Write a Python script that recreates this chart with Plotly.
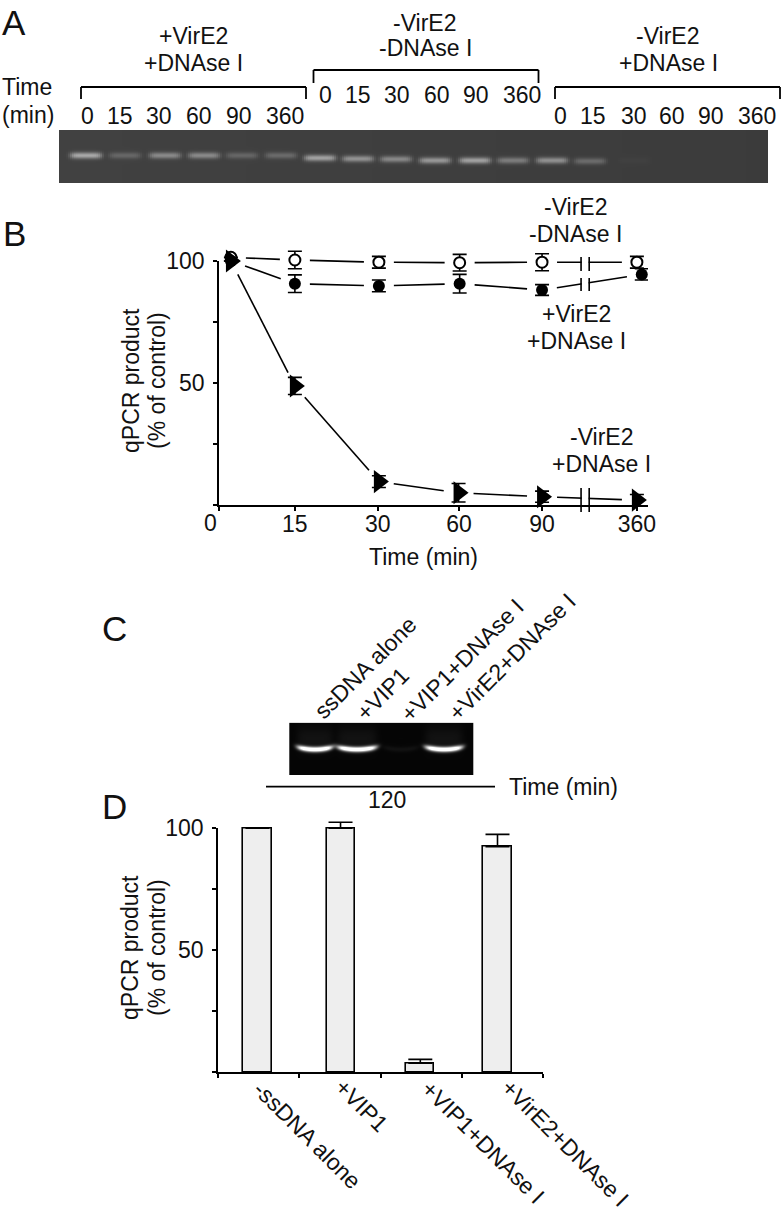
import numpy as np
import plotly.graph_objects as go

W, H = 783, 1212
FONT = "Liberation Sans"
INK = "#111111"

# ---------- Panel B data ----------
time_labels = ["", "15", "30", "60", "90", "360"]
time_ticks = [0, 14.0, 29.3, 44.3, 59.6, 77.1]
x_open = [2.2, 14.0, 29.5, 44.4, 59.6, 77.1]
y_open = [101.5, 100.4, 99.5, 99.3, 99.5, 99.5]
e_open = [0, 3.6, 2.4, 3.4, 3.5, 2.4]
x_fill = [2.2, 14.0, 29.5, 44.4, 59.6, 78.0]
y_fill = [100, 90.7, 89.8, 90.7, 88.1, 94.5]
e_fill = [0, 3.6, 2.4, 3.8, 2.2, 2.3]
x_tri = [2.2, 14.0, 29.5, 44.2, 59.6, 77.1]
y_tri = [100, 48.8, 9.6, 5.0, 3.4, 2.0]
e_tri = [0, 3.5, 2.4, 3.8, 2.3, 2.3]

# ---------- Panel D data ----------
bar_labels = ["-ssDNA alone", "+VIP1", "+VIP1+DNAse I", "+VirE2+DNAse I"]
bar_pos = [0.486, 1.508, 2.49, 3.44]
bar_vals = [100, 100, 3.7, 92.5]
bar_errs = [None, 2.5, 1.6, 5.0]

# ---------- Gel lane data (grey level of each band) ----------
gelA_lanes = [86, 125, 165, 204, 242, 281, 320, 358, 396, 435, 475, 513, 552, 590, 634]
gelA_peak = [165, 100, 135, 135, 100, 105, 160, 145, 135, 150, 160, 125, 145, 108, 66]
gelA_row = [155, 155, 155, 155, 155, 155, 157.5, 158.3, 158.7, 160, 160, 160, 160, 160.7, 160]
gelC_lanes = [315, 357, 401, 444]
gelC_half = [18, 20, 18, 19]
gelC_peak = [255, 255, 10, 255]

PX_PER_X = 429 / 79.15
PX_PER_UNIT = 2.44
GAP_PX = 15


def px(x):
    return x / W


def py(y):
    return 1 - y / H


def gapped(xs, ys):
    """Line segments between neighbouring points, stopping short of each marker."""
    out_x, out_y = [], []
    for x0, y0, x1, y1 in zip(xs[:-1], ys[:-1], xs[1:], ys[1:]):
        length = float(np.hypot((x1 - x0) * PX_PER_X, (y1 - y0) * PX_PER_UNIT))
        t = GAP_PX / length
        out_x += [x0 + (x1 - x0) * t, x1 - (x1 - x0) * t, None]
        out_y += [y0 + (y1 - y0) * t, y1 - (y1 - y0) * t, None]
    return out_x, out_y


def gel_a():
    xs = np.arange(59, 769, 2.0)
    ys = np.arange(130, 184, 1.0)
    X, Y = np.meshgrid(xs, ys)
    Z = np.full(X.shape, 65.0) - 0.008 * (X - 59)
    for c, p, r in zip(gelA_lanes, gelA_peak, gelA_row):
        Z += (p - 62) * np.exp(-(((X - c) / 16) ** 6)) * np.exp(-(((Y - r) / 3.2) ** 2))
    return xs, ys, Z


def gel_c():
    xs = np.arange(289.5, 474, 1.0)
    ys = np.arange(723, 776, 1.0)
    X, Y = np.meshgrid(xs, ys)
    Z = np.full(X.shape, 5.0)
    for c, h, p in zip(gelC_lanes, gelC_half, gelC_peak):
        u = (X - c) / h
        r = 749 - 2.5 * u ** 2
        lane = np.exp(-(u ** 6))
        Z += p * 1.2 * lane * np.exp(-(((Y - r) / 2.6) ** 2))
        Z += (p * 0.05) * lane * np.exp(-(((Y - 738) / 12) ** 2))
    return xs, ys, np.clip(Z, 0, 255)


fig = go.Figure()

# Connecting lines, broken round each point
for xs, ys in [(x_open, y_open), (x_fill, y_fill), (x_tri, y_tri)]:
    gx, gy = gapped(xs, ys)
    fig.add_trace(go.Scatter(x=gx, y=gy, mode="lines", line=dict(color="black", width=1.6),
                             connectgaps=False, showlegend=False, hoverinfo="skip"))

fig.add_trace(go.Scatter(x=x_open, y=y_open, mode="markers",
                         error_y=dict(type="data", array=e_open, color="black", thickness=1.6, width=7),
                         marker=dict(symbol="circle", color="white", size=11, line=dict(color="black", width=2)),
                         name="-VirE2 -DNAse I", showlegend=False))
fig.add_trace(go.Scatter(x=x_fill, y=y_fill, mode="markers",
                         error_y=dict(type="data", array=e_fill, color="black", thickness=1.6, width=7),
                         marker=dict(symbol="circle", color="black", size=12),
                         name="+VirE2 +DNAse I", showlegend=False))
fig.add_trace(go.Scatter(x=x_tri, y=y_tri, mode="markers",
                         error_y=dict(type="data", array=e_tri, color="black", thickness=1.6, width=7),
                         marker=dict(symbol="triangle-right", color="black", size=20),
                         name="-VirE2 +DNAse I", showlegend=False))

# Panel D bars
fig.add_trace(go.Bar(x=bar_pos, y=bar_vals, width=0.345, xaxis="x2", yaxis="y2",
                     marker=dict(color="#eeeeee", line=dict(color="black", width=1.6)),
                     error_y=dict(type="data", symmetric=False, array=bar_errs,
                                  arrayminus=[0, 0, 0, 0], color="black", thickness=1.6, width=12),
                     showlegend=False))

# Gels
xa, ya, za = gel_a()
fig.add_trace(go.Heatmap(x=xa, y=ya, z=za, xaxis="x3", yaxis="y3", zmin=0, zmax=255,
                         colorscale=[[0, "black"], [1, "white"]], showscale=False, hoverinfo="skip"))
xc, yc, zc = gel_c()
fig.add_trace(go.Heatmap(x=xc, y=yc, z=zc, xaxis="x4", yaxis="y4", zmin=0, zmax=255,
                         colorscale=[[0, "black"], [1, "white"]], showscale=False, hoverinfo="skip"))

# Transparent carriers so that the visible axes are drawn (after the marks, so they stay on top)
fig.add_trace(go.Scatter(x=time_ticks, y=[0] * len(time_ticks), xaxis="x5", yaxis="y5", mode="markers",
                         marker=dict(opacity=0), showlegend=False, hoverinfo="skip"))
fig.add_trace(go.Scatter(x=bar_pos, y=[0] * len(bar_pos), xaxis="x6", yaxis="y6", mode="markers",
                         marker=dict(opacity=0), showlegend=False, hoverinfo="skip"))

ann = []


def text(s, x, y, size=23, angle=0):
    ann.append(dict(text=s, x=px(x), y=py(y), xref="paper", yref="paper", showarrow=False,
                    xanchor="center", yanchor="middle", textangle=angle,
                    font=dict(family=FONT, size=size, color=INK)))


# Panel letters
text("A", 14, 23, 35)
text("B", 14, 233, 35)
text("C", 114, 628, 35)
text("D", 114, 806, 35)

# Panel A text
text("+VirE2", 193, 36)
text("+DNAse I", 193, 63)
text("-VirE2", 425, 23)
text("-DNAse I", 425, 48)
text("-VirE2", 668, 36)
text("+DNAse I", 668, 63)
text("Time", 27, 87)
text("(min)", 28, 115)
row_labels = ["0", "15", "30", "60", "90", "360"]
for xs, y in [([87.5, 120, 159, 199, 239, 285], 115.7),
              ([325, 358, 397, 437, 476, 522], 95),
              ([560, 593, 634, 672, 711, 757], 115.7)]:
    for lab, x in zip(row_labels, xs):
        text(lab, x, y)

# Panel B text
text("-VirE2", 575.7, 207)
text("-DNAse I", 575, 234)
text("+VirE2", 576.7, 314)
text("+DNAse I", 576, 341)
text("-VirE2", 601.7, 437)
text("+DNAse I", 601.7, 464)
text("0", 210, 522.7)
text("Time (min)", 423, 557)
text("qPCR product", 131, 381, angle=-90)
text("(% of control)", 157, 381, angle=-90)

# Panel C text
text("ssDNA alone", 365, 668, angle=-45)
text("+VIP1", 382.5, 694, angle=-45)
text("+VIP1+DNAse I", 462.5, 660, angle=-45)
text("+VirE2+DNAse I", 512, 657, angle=-45)
text("Time (min)", 563, 787)
text("120", 387, 800)

# Panel D text
text("qPCR product", 130, 948, angle=-90)
text("(% of control)", 157, 948, angle=-90)
for lab, x, y in zip(bar_labels, [307, 361, 483, 565], [1135, 1105, 1142, 1143]):
    text(lab, x, y, angle=45)

shapes = []


def seg(x0, y0, x1, y1, w=1.8):
    shapes.append(dict(type="line", xref="paper", yref="paper", x0=px(x0), y0=py(y0), x1=px(x1), y1=py(y1),
                       line=dict(color="black", width=w)))


for x0, x1, top, bot in [(81, 306, 87, 99), (313.5, 538.5, 70, 83), (555, 780, 87, 99)]:
    seg(x0, bot, x0, top)
    seg(x0, top, x1, top)
    seg(x1, top, x1, bot)
seg(266, 786.7, 495, 786.7)

# Axis breaks in panel B
for y0, y1 in [(85, 103), (0.6, 8)]:
    shapes.append(dict(type="rect", xref="x", yref="y", x0=66.9, x1=68.2, y0=y0, y1=y1,
                       fillcolor="white", line=dict(width=0), layer="above"))
for xb in [66.8, 68.3]:
    for y0, y1 in [(95.9, 101.6), (87.7, 93.0), (-2.9, 7.0)]:
        shapes.append(dict(type="line", xref="x", yref="y", x0=xb, x1=xb, y0=y0, y1=y1,
                           line=dict(color="black", width=1.6), layer="above"))

axis_common = dict(showgrid=False, zeroline=False, showline=True, linecolor="black", linewidth=1.8,
                   ticks="outside", ticklen=4, tickwidth=1.6, tickcolor="black", automargin=False,
                   tickfont=dict(family=FONT, size=23, color=INK))
hidden = dict(visible=False, showgrid=False, zeroline=False, automargin=False)

EXT_B = 20  # extra data units kept round the 0-100 scale so points above 100 stay drawn

fig.update_layout(
    width=W, height=H, margin=dict(l=0, r=0, t=0, b=0), autosize=False,
    paper_bgcolor="white", plot_bgcolor="rgba(0,0,0,0)", showlegend=False,
    bargap=0, annotations=ann, shapes=shapes,
    # hidden scales that carry the marks (same pixel scale as the visible axes, wider range)
    xaxis=dict(domain=[px(219), px(648)], range=[0, 79.15], anchor="y", **hidden),
    yaxis=dict(domain=[py(505 + EXT_B * PX_PER_UNIT), py(261 - EXT_B * PX_PER_UNIT)],
               range=[-EXT_B, 100 + EXT_B], anchor="x", **hidden),
    xaxis2=dict(domain=[px(218), px(543)], range=[0, 4], anchor="y2", **hidden),
    yaxis2=dict(domain=[py(1072.3), py(828.3 - EXT_B * PX_PER_UNIT)],
                range=[0, 100 + EXT_B], anchor="x2", **hidden),
    xaxis3=dict(domain=[px(59), px(768.5)], range=[59, 768.5], anchor="y3", **hidden),
    yaxis3=dict(domain=[py(183), py(130)], range=[183, 130], anchor="x3", **hidden),
    xaxis4=dict(domain=[px(289.3), px(473.3)], range=[289.3, 473.3], anchor="y4", **hidden),
    yaxis4=dict(domain=[py(775), py(722.7)], range=[775, 722.7], anchor="x4", **hidden),
    # visible axes
    xaxis5=dict(domain=[px(219), px(648)], range=[0, 79.15], anchor="y5", tickmode="array",
                tickvals=time_ticks, ticktext=time_labels, ticklabelstandoff=-7, **axis_common),
    yaxis5=dict(domain=[py(505), py(261)], range=[0, 100], anchor="x5", tickmode="array",
                tickvals=[0, 25, 50, 75, 100], ticktext=["", "", "50", "", "100"],
                ticklabelstandoff=4, **axis_common),
    xaxis6=dict(domain=[px(218), px(543)], range=[0, 4], anchor="y6", tickmode="array",
                tickvals=[0, 1, 2, 3, 4], ticktext=["", "", "", "", ""], **axis_common),
    yaxis6=dict(domain=[py(1072.3), py(828.3)], range=[0, 100], anchor="x6", tickmode="array",
                tickvals=[0, 25, 50, 75, 100], ticktext=["", "", "50", "", "100"],
                ticklabelstandoff=4, **axis_common),
)

fig.write_html("out.html", config={"displayModeBar": False},
               post_script="document.body.style.margin='0';document.body.style.overflow='hidden';")
